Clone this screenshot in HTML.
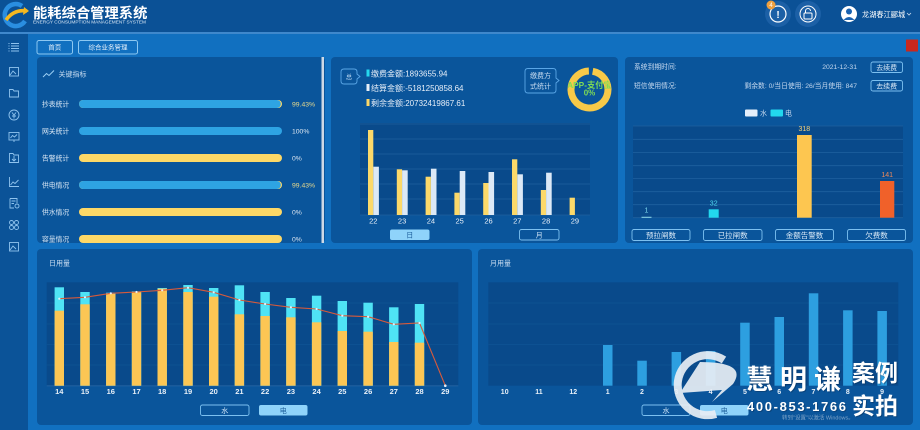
<!DOCTYPE html>
<html><head><meta charset="utf-8"><style>
html,body{margin:0;padding:0;width:920px;height:430px;overflow:hidden;background:#1170c0}
svg{display:block}
</style></head><body>
<svg width="920" height="430" viewBox="0 0 920 430" xmlns="http://www.w3.org/2000/svg" font-family="'Liberation Sans','Noto Sans CJK SC',sans-serif">
<defs>
<clipPath id="dc"><circle cx="589.5" cy="89.5" r="21.5"/></clipPath>
</defs>
<!-- backgrounds -->
<rect x="0" y="0" width="920" height="430" fill="#1170c0"/>
<rect x="0" y="0" width="920" height="32" fill="#0b5196"/>
<rect x="0" y="32" width="920" height="2" fill="#3f88cc"/>
<rect x="0" y="34" width="28" height="396" fill="#0b5398"/>

<!-- logo -->
<path d="M22 6 A11 11 0 1 0 25 21" fill="none" stroke="#2a8ee0" stroke-width="4.5"/>
<path d="M6 20 Q14 9 27 11" fill="none" stroke="#f5b820" stroke-width="3.5"/>
<polygon points="24,7 29,11 23,15" fill="#f5b820"/>
<text x="33" y="18" font-size="14.3" font-weight="bold" fill="#ffffff">能耗综合管理系统</text>
<text x="33" y="23.5" font-size="4.3" fill="#d8e6f4" textLength="113" lengthAdjust="spacingAndGlyphs">ENERGY CONSUMPTION MANAGEMENT SYSTEM</text>

<!-- header icons -->
<circle cx="778" cy="14" r="13" fill="#1c60a6"/>
<circle cx="778" cy="14" r="8" fill="none" stroke="#ffffff" stroke-width="1.2"/>
<text x="778" y="18" font-size="10" font-weight="bold" fill="#fff" text-anchor="middle">!</text>
<circle cx="771" cy="5" r="4.5" fill="#eea040"/>
<text x="771" y="7.2" font-size="6" fill="#fff" text-anchor="middle">4</text>
<circle cx="808" cy="14" r="13" fill="#1c60a6"/>
<circle cx="808" cy="14" r="8" fill="none" stroke="#ffffff" stroke-width="1"/>
<rect x="804" y="13" width="8" height="6" rx="1" fill="none" stroke="#fff" stroke-width="1"/>
<path d="M805.5 13 V11 A2.5 2.5 0 0 1 810.5 11" fill="none" stroke="#fff" stroke-width="1"/>
<circle cx="849" cy="14" r="8" fill="#ffffff"/>
<circle cx="849" cy="11.5" r="3" fill="#1a62b0"/>
<path d="M843.5 20 Q849 14 854.5 20 Z" fill="#1a62b0"/>
<text x="862" y="17" font-size="7.2" fill="#ffffff">龙湖春江郦城</text>
<path d="M907 13 L909 15 L911 13" fill="none" stroke="#cfe0f2" stroke-width="0.8"/>

<!-- sidebar icons -->
<g fill="none" stroke="#8fc3ee" stroke-width="0.9">
<path d="M11 43.5H19M11 46H19M11 48.5H19M11 51H19M8.5 43.5h1M8.5 46h1M8.5 48.5h1M8.5 51h1"/>
<rect x="9.5" y="67.5" width="9" height="8.5"/><path d="M10 75 L13 71 L16 74"/>
<path d="M9.5 89.5 H13 L14 91 H18.5 V97 H9.5 Z"/>
<circle cx="14" cy="115" r="5"/><path d="M12 112.5 L14 115 L16 112.5 M14 115 V118.5 M12 116 H16"/>
<rect x="9" y="132.5" width="10" height="7.5"/><path d="M10.5 138 L12.5 135.5 L14.5 137 L17 134.5 M14 140 V142"/>
<path d="M9.5 153.5 H13 L14 155 H18.5 V162.5 H9.5 Z M14 156 V161 M12 159 L14 161 L16 159"/>
<path d="M9.5 177 V186.5 H19 M10.5 185 L13 182 L15 183.5 L18.5 180"/>
<path d="M10 198.5 H17 V203 M10 198.5 V208 H14 M11.5 201 H15.5 M11.5 203.5 H14"/><circle cx="17" cy="206" r="2"/>
<circle cx="11.5" cy="222.5" r="2"/><circle cx="16.5" cy="222.5" r="2"/><circle cx="11.5" cy="227.5" r="2"/><circle cx="16.5" cy="227.5" r="2"/>
<rect x="9.5" y="242.5" width="9" height="8.5"/><path d="M10 250 L13 246 L16 249"/>
</g>

<!-- tabs -->
<rect x="37" y="40.5" width="35.5" height="13.5" rx="2" fill="none" stroke="#8cc8f2" stroke-width="1"/>
<text x="54.7" y="49.7" font-size="6.5" fill="#e8f2fb" text-anchor="middle">首页</text>
<rect x="78.5" y="40.5" width="59" height="13.5" rx="2" fill="none" stroke="#8cc8f2" stroke-width="1"/>
<text x="108" y="49.7" font-size="6.5" fill="#e8f2fb" text-anchor="middle">综合业务管理</text>
<rect x="906" y="39.5" width="12" height="12" fill="#c8281e"/>

<!-- panels -->
<rect x="37" y="57" width="288" height="186" rx="4" fill="#0a559b"/>
<rect x="331" y="57" width="287" height="186" rx="4" fill="#0a559b"/>
<rect x="625" y="57" width="288" height="186" rx="4" fill="#0a559b"/>
<rect x="37" y="249" width="435" height="176" rx="4" fill="#0a559b"/>
<rect x="478" y="249" width="435" height="176" rx="4" fill="#0a559b"/>

<!-- panel 1 -->
<rect x="321.5" y="57" width="2.5" height="186" fill="#cdd9e6"/>
<path d="M43 77 L46.5 73.5 L49 75.5 L54 70.5" fill="none" stroke="#9cd0f5" stroke-width="1"/>
<text x="58.5" y="76.5" font-size="7" fill="#c8dcf0">关键指标</text>
<g font-size="6.8">
<text x="42" y="106.5" fill="#dbe8f5">抄表统计</text>
<rect x="79" y="100" width="203" height="8" rx="4" fill="#fdd867"/>
<rect x="79" y="100" width="201.8" height="8" rx="4" fill="#2ea3e3"/>
<text x="292" y="106.5" fill="#eadb8c">99.43%</text>

<text x="42" y="133.5" fill="#dbe8f5">网关统计</text>
<rect x="79" y="127" width="203" height="8" rx="4" fill="#2ea3e3"/>
<text x="292" y="133.5" fill="#dfe8f2">100%</text>

<text x="42" y="160.5" fill="#dbe8f5">告警统计</text>
<rect x="79" y="154" width="203" height="8" rx="4" fill="#fdd867"/>
<text x="292" y="160.5" fill="#dfe8f2">0%</text>

<text x="42" y="187.5" fill="#dbe8f5">供电情况</text>
<rect x="79" y="181" width="203" height="8" rx="4" fill="#fdd867"/>
<rect x="79" y="181" width="201.8" height="8" rx="4" fill="#2ea3e3"/>
<text x="292" y="187.5" fill="#eadb8c">99.43%</text>

<text x="42" y="214.5" fill="#dbe8f5">供水情况</text>
<rect x="79" y="208" width="203" height="8" rx="4" fill="#fdd867"/>
<text x="292" y="214.5" fill="#dfe8f2">0%</text>

<text x="42" y="241.3" fill="#dbe8f5">容量情况</text>
<rect x="79" y="235" width="203" height="8" rx="4" fill="#fdd867"/>
<text x="292" y="241.3" fill="#dfe8f2">0%</text>
</g>
<rect x="37" y="243" width="288" height="6" fill="#1170c0"/>

<!-- panel 2 -->
<path d="M344,69 H354 Q357,69 357,72 V74 L360,76.5 L357,79 V81 Q357,84 354,84 H344 Q341,84 341,81 V72 Q341,69 344,69 Z" fill="none" stroke="#5aa6e6" stroke-width="0.9"/>
<text x="349" y="79" font-size="6.5" fill="#b9d6f0" text-anchor="middle">总</text>
<rect x="366.5" y="69.5" width="3" height="7" fill="#25d8ee"/>
<rect x="366.5" y="84" width="3" height="7" fill="#e6eef8"/>
<rect x="366.5" y="99" width="3" height="7" fill="#fdd867"/>
<g font-size="8" fill="#e6eef8">
<text x="371" y="76.3">缴费金额:1893655.94</text>
<text x="371" y="90.8">结算金额:-5181250858.64</text>
<text x="371" y="105.8">剩余金额:20732419867.61</text>
</g>
<path d="M528,68.5 H553 Q556,68.5 556,71.5 V78 L559,80.5 L556,83 V90 Q556,93 553,93 H528 Q525,93 525,90 V71.5 Q525,68.5 528,68.5 Z" fill="none" stroke="#5aa6e6" stroke-width="0.9"/>
<text x="540.5" y="78" font-size="7" fill="#c8dcf0" text-anchor="middle">缴费方</text>
<text x="540.5" y="88.5" font-size="7" fill="#c8dcf0" text-anchor="middle">式统计</text>
<circle cx="589.5" cy="89.5" r="18.5" fill="none" stroke="#f7c948" stroke-width="7" stroke-dasharray="112.2 4" transform="rotate(-80 589.5 89.5)"/>
<g clip-path="url(#dc)">
<text x="589.5" y="88" font-size="8.3" font-weight="bold" fill="#7fdc55" text-anchor="middle">APP-支付宝</text>
</g>
<text x="589.5" y="95.5" font-size="8" font-weight="bold" fill="#7fdc55" text-anchor="middle">0%</text>

<rect x="360" y="123" width="230" height="92" fill="#094a8b"/>
<g stroke="#1f619f" stroke-width="0.8">
<line x1="360" y1="124" x2="590" y2="124"/><line x1="360" y1="139" x2="590" y2="139"/><line x1="360" y1="154" x2="590" y2="154"/><line x1="360" y1="169" x2="590" y2="169"/><line x1="360" y1="184" x2="590" y2="184"/><line x1="360" y1="199" x2="590" y2="199"/><line x1="360" y1="215" x2="590" y2="215"/>
</g>
<g fill="#fcd96a">
<rect x="368" y="130" width="5.3" height="85"/>
<rect x="396.8" y="169.3" width="5.3" height="45.7"/>
<rect x="425.6" y="176.7" width="5.3" height="38.3"/>
<rect x="454.4" y="192.7" width="5.3" height="22.3"/>
<rect x="483.2" y="183" width="5.3" height="32"/>
<rect x="512" y="159.3" width="5.3" height="55.7"/>
<rect x="540.8" y="190" width="5.3" height="25"/>
<rect x="569.6" y="197.7" width="5.3" height="17.3"/>
</g>
<g fill="#dce9f7">
<rect x="373.3" y="166.7" width="5.6" height="48.3"/>
<rect x="402.1" y="170.3" width="5.6" height="44.7"/>
<rect x="430.9" y="168.7" width="5.6" height="46.3"/>
<rect x="459.7" y="171" width="5.6" height="44"/>
<rect x="488.5" y="172" width="5.6" height="43"/>
<rect x="517.3" y="174.3" width="5.6" height="40.7"/>
<rect x="546.1" y="172.7" width="5.6" height="42.3"/>
</g>
<g font-size="7.5" fill="#e8f0f8" text-anchor="middle">
<text x="373.3" y="223.5">22</text><text x="402.1" y="223.5">23</text><text x="430.9" y="223.5">24</text><text x="459.7" y="223.5">25</text><text x="488.5" y="223.5">26</text><text x="517.3" y="223.5">27</text><text x="546.1" y="223.5">28</text><text x="574.9" y="223.5">29</text>
</g>
<rect x="390" y="229.5" width="39.5" height="10.5" rx="2" fill="#8fd3fa"/>
<text x="409.7" y="237.5" font-size="7" fill="#1a5c9a" text-anchor="middle">日</text>
<rect x="519.5" y="229.5" width="39.5" height="10.5" rx="2" fill="none" stroke="#7cc0f0" stroke-width="0.9"/>
<text x="539.2" y="237.5" font-size="7" fill="#cfe4f6" text-anchor="middle">月</text>

<!-- panel 3 -->
<g font-size="6.8" fill="#c5d8ee">
<text x="634" y="69">系统到期时间:</text>
<text x="857" y="69" text-anchor="end">2021-12-31</text>
<text x="634" y="88">短信使用情况:</text>
<text x="857" y="88" text-anchor="end">剩余数: 0/当日使用: 26/当月使用: 847</text>
</g>
<rect x="871" y="62" width="31.5" height="10.5" rx="2" fill="none" stroke="#7cc0f0" stroke-width="0.9"/>
<text x="886.7" y="69.8" font-size="7" fill="#d8e8f6" text-anchor="middle">去续费</text>
<rect x="871" y="80.5" width="31.5" height="10.5" rx="2" fill="none" stroke="#7cc0f0" stroke-width="0.9"/>
<text x="886.7" y="88.3" font-size="7" fill="#d8e8f6" text-anchor="middle">去续费</text>
<rect x="745" y="109.5" width="12.5" height="7" rx="1" fill="#e4eefa"/>
<text x="760" y="115.5" font-size="7" fill="#c5d8ee">水</text>
<rect x="770.5" y="109.5" width="12.5" height="7" rx="1" fill="#22d8ee"/>
<text x="785" y="115.5" font-size="7" fill="#c5d8ee">电</text>

<rect x="633" y="126" width="270" height="92" fill="#094a8b"/>
<g stroke="#1f619f" stroke-width="0.8">
<line x1="633" y1="126" x2="903" y2="126"/><line x1="633" y1="139.3" x2="903" y2="139.3"/><line x1="633" y1="152.6" x2="903" y2="152.6"/><line x1="633" y1="165.7" x2="903" y2="165.7"/><line x1="633" y1="178.5" x2="903" y2="178.5"/><line x1="633" y1="191.7" x2="903" y2="191.7"/><line x1="633" y1="204.7" x2="903" y2="204.7"/><line x1="633" y1="217.7" x2="903" y2="217.7"/>
</g>
<rect x="641.5" y="216.8" width="10" height="0.9" fill="#9fe8f2"/>
<text x="646.5" y="212.5" font-size="7" fill="#7fd8ee" text-anchor="middle">1</text>
<rect x="708.7" y="209.3" width="10" height="8.4" fill="#22d8ee"/>
<text x="713.7" y="205.5" font-size="7" fill="#4fd8ee" text-anchor="middle">32</text>
<rect x="797" y="135" width="14.7" height="82.7" fill="#fdc650"/>
<text x="804.3" y="131" font-size="7" fill="#f5d27a" text-anchor="middle">318</text>
<rect x="880" y="181" width="14.3" height="36.7" fill="#f0612a"/>
<text x="887.2" y="177" font-size="7" fill="#f08a5a" text-anchor="middle">141</text>
<g fill="none" stroke="#7cc0f0" stroke-width="0.9">
<rect x="632" y="229.5" width="58" height="11" rx="2"/>
<rect x="703.5" y="229.5" width="58.5" height="11" rx="2"/>
<rect x="775.5" y="229.5" width="58" height="11" rx="2"/>
<rect x="847.5" y="229.5" width="58" height="11" rx="2"/>
</g>
<g font-size="7.5" fill="#d8e8f6" text-anchor="middle">
<text x="661" y="237.8">预拉闸数</text><text x="732.7" y="237.8">已拉闸数</text><text x="804.5" y="237.8">金额告警数</text><text x="876.5" y="237.8">欠费数</text>
</g>

<!-- panel 4 day chart -->
<text x="49" y="265.5" font-size="7" fill="#c8dcf0">日用量</text>
<rect x="46.7" y="282.3" width="411.6" height="103.4" fill="#094a8b"/>
<g stroke="#0f5595" stroke-width="0.7">
<line x1="46.7" y1="303" x2="458.3" y2="303"/><line x1="46.7" y1="324" x2="458.3" y2="324"/><line x1="46.7" y1="344.5" x2="458.3" y2="344.5"/><line x1="46.7" y1="365" x2="458.3" y2="365"/>
</g>
<line x1="46.7" y1="385.9" x2="458.3" y2="385.9" stroke="#2a6aa8" stroke-width="0.7"/>
<g fill="#4fe3f5">
<rect x="54.6" y="287.3" width="9.4" height="98.4"/>
<rect x="80.3" y="292" width="9.4" height="93.7"/>
<rect x="106.1" y="292.7" width="9.4" height="93"/>
<rect x="131.8" y="291.3" width="9.4" height="94.4"/>
<rect x="157.5" y="288" width="9.4" height="97.7"/>
<rect x="183.3" y="285" width="9.4" height="100.7"/>
<rect x="209" y="288" width="9.4" height="97.7"/>
<rect x="234.7" y="285.3" width="9.4" height="100.4"/>
<rect x="260.4" y="292" width="9.4" height="93.7"/>
<rect x="286.2" y="298" width="9.4" height="87.7"/>
<rect x="311.9" y="295.7" width="9.4" height="90"/>
<rect x="337.6" y="301" width="9.4" height="84.7"/>
<rect x="363.4" y="302.7" width="9.4" height="83"/>
<rect x="389.1" y="307.3" width="9.4" height="78.4"/>
<rect x="414.8" y="304" width="9.4" height="81.7"/>
</g>
<g fill="#fcc654">
<rect x="54.6" y="310.7" width="9.4" height="75"/>
<rect x="80.3" y="304.3" width="9.4" height="81.4"/>
<rect x="106.1" y="294" width="9.4" height="91.7"/>
<rect x="131.8" y="292" width="9.4" height="93.7"/>
<rect x="157.5" y="288.7" width="9.4" height="97"/>
<rect x="183.3" y="292" width="9.4" height="93.7"/>
<rect x="209" y="296.7" width="9.4" height="89"/>
<rect x="234.7" y="314.3" width="9.4" height="71.4"/>
<rect x="260.4" y="316" width="9.4" height="69.7"/>
<rect x="286.2" y="317.3" width="9.4" height="68.4"/>
<rect x="311.9" y="322.3" width="9.4" height="63.4"/>
<rect x="337.6" y="331" width="9.4" height="54.7"/>
<rect x="363.4" y="331.7" width="9.4" height="54"/>
<rect x="389.1" y="342" width="9.4" height="43.7"/>
<rect x="414.8" y="342.7" width="9.4" height="43"/>
</g>
<polyline points="59.3,298.7 85,297.3 110.8,293.3 136.5,292 162.2,290.3 188,287.7 213.7,292.3 239.4,300 265.1,304 290.9,307.3 316.6,309 342.3,315.7 368.1,316.7 393.8,324.3 419.5,323 445.3,385.7" fill="none" stroke="#d65a3c" stroke-width="1.1"/>
<g fill="#e8eef6">
<circle cx="59.3" cy="298.7" r="1.1"/><circle cx="85" cy="297.3" r="1.1"/><circle cx="110.8" cy="293.3" r="1.1"/><circle cx="136.5" cy="292" r="1.1"/><circle cx="162.2" cy="290.3" r="1.1"/><circle cx="188" cy="287.7" r="1.1"/><circle cx="213.7" cy="292.3" r="1.1"/><circle cx="239.4" cy="300" r="1.1"/><circle cx="265.1" cy="304" r="1.1"/><circle cx="290.9" cy="307.3" r="1.1"/><circle cx="316.6" cy="309" r="1.1"/><circle cx="342.3" cy="315.7" r="1.1"/><circle cx="368.1" cy="316.7" r="1.1"/><circle cx="393.8" cy="324.3" r="1.1"/><circle cx="419.5" cy="323" r="1.1"/><circle cx="445.3" cy="385.7" r="1.3"/>
</g>
<g font-size="7.5" font-weight="bold" fill="#e8f0f8" text-anchor="middle">
<text x="59.3" y="394">14</text><text x="85" y="394">15</text><text x="110.8" y="394">16</text><text x="136.5" y="394">17</text><text x="162.2" y="394">18</text><text x="188" y="394">19</text><text x="213.7" y="394">20</text><text x="239.4" y="394">21</text><text x="265.1" y="394">22</text><text x="290.9" y="394">23</text><text x="316.6" y="394">24</text><text x="342.3" y="394">25</text><text x="368.1" y="394">26</text><text x="393.8" y="394">27</text><text x="419.5" y="394">28</text><text x="445.3" y="394">29</text>
</g>
<rect x="200.5" y="405" width="48.5" height="10.5" rx="2" fill="none" stroke="#7cc0f0" stroke-width="0.9"/>
<text x="224.7" y="413" font-size="7" fill="#cfe4f6" text-anchor="middle">水</text>
<rect x="259" y="405" width="48.5" height="10.5" rx="2" fill="#8fd3fa"/>
<text x="283.2" y="413" font-size="7" fill="#1a5c9a" text-anchor="middle">电</text>

<!-- panel 5 month chart -->
<text x="490" y="265.5" font-size="7" fill="#c8dcf0">月用量</text>
<rect x="488.3" y="282.3" width="410" height="103.4" fill="#094a8b"/>
<g stroke="#0f5595" stroke-width="0.7">
<line x1="488.3" y1="303" x2="898.3" y2="303"/><line x1="488.3" y1="324" x2="898.3" y2="324"/><line x1="488.3" y1="344.5" x2="898.3" y2="344.5"/><line x1="488.3" y1="365" x2="898.3" y2="365"/>
</g>
<g fill="#2d9fe0">
<rect x="603" y="345" width="9.5" height="40.7"/>
<rect x="637.3" y="360.7" width="9.5" height="25"/>
<rect x="671.6" y="352" width="9.5" height="33.7"/>
<rect x="705.9" y="351" width="9.5" height="34.7"/>
<rect x="740.2" y="322.7" width="9.5" height="63"/>
<rect x="774.5" y="317" width="9.5" height="68.7"/>
<rect x="808.8" y="293.3" width="9.5" height="92.4"/>
<rect x="843.1" y="310.3" width="9.5" height="75.4"/>
<rect x="877.4" y="311" width="9.5" height="74.7"/>
</g>
<g font-size="7" font-weight="bold" fill="#e8f0f8" text-anchor="middle">
<text x="504.7" y="394">10</text><text x="539" y="394">11</text><text x="573.3" y="394">12</text><text x="607.7" y="394">1</text><text x="642" y="394">2</text><text x="676.3" y="394">3</text><text x="710.6" y="394">4</text><text x="744.9" y="394">5</text><text x="779.2" y="394">6</text><text x="813.5" y="394">7</text><text x="847.8" y="394">8</text><text x="882.1" y="394">9</text>
</g>
<rect x="642" y="405" width="48" height="10.5" rx="2" fill="none" stroke="#7cc0f0" stroke-width="0.9"/>
<text x="666" y="413" font-size="7" fill="#cfe4f6" text-anchor="middle">水</text>
<rect x="700" y="405" width="48.5" height="10.5" rx="2" fill="#8fd3fa"/>
<text x="724.2" y="413" font-size="7" fill="#1a5c9a" text-anchor="middle">电</text>

<!-- watermark -->
<g opacity="0.92">
<path d="M724 360 A30 30 0 1 0 716 414" fill="none" stroke="#e8eef5" stroke-width="8"/>
<path d="M700 362 Q748 362 733 384 L712 402 L722 390 L680 393 Z" fill="#e8eef5"/>
</g>
<g font-weight="bold">
<text x="747" y="390" font-size="27" fill="#0a2e55" opacity="0.45" letter-spacing="7">慧明谦</text>
<text x="746" y="389" font-size="27" fill="#ffffff" letter-spacing="7">慧明谦</text>
<text x="853" y="382" font-size="23" fill="#0a2e55" opacity="0.45">案例</text>
<text x="852" y="381" font-size="23" fill="#ffffff">案例</text>
<text x="853" y="415" font-size="23" fill="#0a2e55" opacity="0.45">实拍</text>
<text x="852" y="414" font-size="23" fill="#ffffff">实拍</text>
<text x="748" y="412" font-size="13" fill="#0a2e55" opacity="0.45" textLength="99">400-853-1766</text>
<text x="747" y="411" font-size="13" fill="#ffffff" textLength="99">400-853-1766</text>
</g>
<text x="782" y="419.5" font-size="5.5" fill="#9ab6d2" opacity="0.8">转到"设置"以激活 Windows。</text>
</svg>
</body></html>
